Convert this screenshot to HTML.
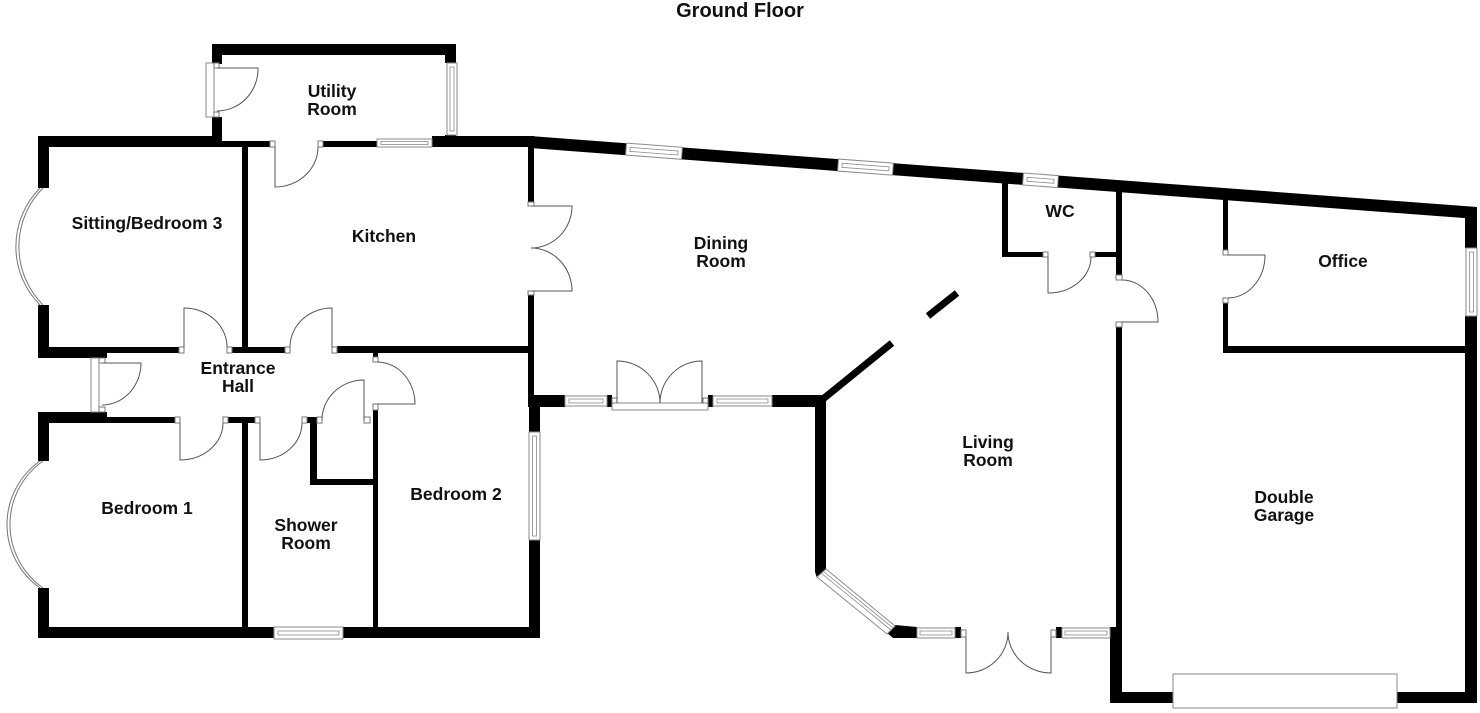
<!DOCTYPE html>
<html>
<head>
<meta charset="utf-8">
<style>
html,body{margin:0;padding:0;background:#fff;}
svg{display:block;}
.win{fill:#fff;stroke:#8a8a8a;stroke-width:1;}
.wl{fill:none;stroke:#8a8a8a;stroke-width:0.8;}
.d{fill:none;stroke:#555;stroke-width:1;}
.j{fill:#fff;stroke:#777;stroke-width:1;}
.bay{fill:none;stroke:#777;stroke-width:1;}
text{font-family:"Liberation Sans",Arial,sans-serif;font-weight:bold;fill:#111;text-anchor:middle;}
.lb{font-size:17.5px;}
</style>
</head>
<body>
<svg width="1480" height="713" viewBox="0 0 1480 713" xmlns="http://www.w3.org/2000/svg">
<rect x="0" y="0" width="1480" height="713" fill="#fff"/>

<text x="740" y="17" style="font-size:20px">Ground Floor</text>

<g fill="#000">
  <!-- utility -->
  <rect x="212" y="44" width="244" height="11"/>
  <rect x="212" y="44" width="10" height="20"/>
  <rect x="212" y="117" width="10" height="30"/>
  <rect x="445" y="44" width="11" height="19"/>
  <rect x="445" y="135" width="11" height="12"/>
  <!-- main top -->
  <rect x="38" y="136" width="184" height="11"/>
  <rect x="222" y="141" width="48" height="6"/>
  <rect x="323" y="141" width="54" height="6"/>
  <rect x="432" y="136" width="102" height="11"/>
  <polygon points="530,136 1477,207 1477,219 530,148"/>
  <!-- sitting -->
  <rect x="38" y="136" width="11" height="52"/>
  <rect x="38" y="305" width="11" height="53"/>
  <rect x="38" y="347" width="69" height="11"/>
  <rect x="107" y="347" width="72" height="6"/>
  <rect x="232" y="347" width="53" height="6"/>
  <rect x="337" y="346" width="197" height="7"/>
  <rect x="242" y="147" width="6" height="206"/>
  <rect x="373" y="352" width="5" height="5"/>
  <!-- kitchen right -->
  <rect x="528" y="147" width="6" height="55"/>
  <rect x="528" y="295" width="6" height="100"/>
  <!-- bedroom 2 right -->
  <rect x="528" y="395" width="37" height="12"/>
  <rect x="529" y="395" width="11" height="37"/>
  <rect x="529" y="540" width="11" height="98"/>
  <!-- bottom -->
  <rect x="38" y="627" width="236" height="11"/>
  <rect x="343" y="627" width="197" height="11"/>
  <!-- bedroom 1 -->
  <rect x="38" y="412" width="11" height="49"/>
  <rect x="38" y="588" width="11" height="50"/>
  <rect x="38" y="412" width="69" height="11"/>
  <rect x="107" y="417" width="68" height="6"/>
  <rect x="228" y="417" width="27" height="6"/>
  <rect x="307" y="417" width="10" height="6"/>
  <rect x="242" y="417" width="6" height="210"/>
  <rect x="310" y="417" width="7" height="68"/>
  <rect x="310" y="479" width="68" height="6"/>
  <rect x="373" y="410" width="5" height="217"/>
  <!-- dining bottom -->
  <rect x="533" y="395" width="32" height="12"/>
  <rect x="607" y="395" width="5" height="12"/>
  <rect x="708" y="395" width="5" height="12"/>
  <rect x="772" y="395" width="54" height="12"/>
  <!-- living -->
  <rect x="815" y="395" width="11" height="177"/>
  <polygon points="815,572 826,566 826,572 817,578"/>
  <polygon points="895,625 917,627 917,638 893,638 886,632"/>
  <rect x="955" y="627" width="6" height="11"/>
  <rect x="1056" y="627" width="6" height="11"/>
  <!-- WC -->
  <rect x="1002" y="180" width="6" height="77"/>
  <rect x="1002" y="252" width="41" height="5"/>
  <rect x="1095" y="252" width="21" height="5"/>
  <!-- garage -->
  <rect x="1116" y="190" width="6" height="85"/>
  <rect x="1116" y="327" width="6" height="300"/>
  <rect x="1110" y="627" width="12" height="76"/>
  <rect x="1110" y="692" width="367" height="11"/>
  <rect x="1465" y="207" width="12" height="41"/>
  <rect x="1465" y="316" width="12" height="387"/>
  <!-- office -->
  <rect x="1223" y="197" width="5" height="53"/>
  <rect x="1223" y="303" width="5" height="50"/>
  <rect x="1223" y="346" width="242" height="7"/>
</g>

<!-- diagonal walls -->
<line x1="823" y1="399" x2="892" y2="343" stroke="#000" stroke-width="7"/>
<line x1="928" y1="316" x2="957" y2="293" stroke="#000" stroke-width="7"/>

<!-- bay windows -->
<path class="bay" d="M40,188 A83,83 0 0 0 40,305"/>
<path class="bay" d="M43,188 A83,83 0 0 0 43,305"/>
<path class="bay" d="M40,461 A77.6,77.6 0 0 0 40,588"/>
<path class="bay" d="M43,461 A77.6,77.6 0 0 0 43,588"/>

<!-- windows -->
<g>
  <rect class="win" x="447" y="63" width="10" height="72"/>
  <rect class="wl" x="450" y="67" width="4" height="64"/>
  <rect class="win" x="377" y="139" width="55" height="8"/>
  <rect class="wl" x="381" y="141.5" width="47" height="3"/>
  <g transform="rotate(4.3 654 151.2)">
    <rect class="win" x="626" y="145.2" width="56" height="12"/>
    <rect class="wl" x="630" y="149.2" width="48" height="4"/>
  </g>
  <g transform="rotate(4.3 865.5 167.1)">
    <rect class="win" x="838" y="161.1" width="55" height="12"/>
    <rect class="wl" x="842" y="165.1" width="47" height="4"/>
  </g>
  <g transform="rotate(4.3 1040.5 180.3)">
    <rect class="win" x="1023" y="174.3" width="35" height="12"/>
    <rect class="wl" x="1027" y="178.3" width="27" height="4"/>
  </g>
  <rect class="win" x="1466" y="248" width="11" height="68"/>
  <rect class="wl" x="1469.5" y="252" width="4" height="60"/>
  <rect class="win" x="529" y="432" width="11" height="108"/>
  <rect class="wl" x="532.5" y="436" width="4" height="100"/>
  <rect class="win" x="274" y="627" width="69" height="12"/>
  <rect class="wl" x="278" y="631" width="61" height="4"/>
  <rect class="win" x="565" y="396" width="42" height="10"/>
  <rect class="wl" x="569" y="399" width="34" height="4"/>
  <rect class="win" x="713" y="396" width="59" height="10"/>
  <rect class="wl" x="717" y="399" width="51" height="4"/>
  <rect class="win" x="612" y="403" width="96" height="7"/>
  <polygon class="win" points="817,577 826,569 895,626 887,634"/>
  <line class="wl" x1="821" y1="573" x2="891" y2="630"/>
  <line class="wl" x1="823" y1="571" x2="893" y2="628"/>
  <rect class="win" x="917" y="628" width="38" height="10"/>
  <rect class="wl" x="920" y="631" width="32" height="4"/>
  <rect class="win" x="1062" y="628" width="48" height="10"/>
  <rect class="wl" x="1065" y="631" width="42" height="4"/>
  <rect class="win" x="91" y="358" width="8" height="54"/>
  <rect class="win" x="206" y="63" width="8" height="54"/>
  <rect class="win" x="1173" y="674" width="224" height="34"/>
</g>

<!-- jambs -->
<g class="j">
  <rect x="214" y="63" width="5" height="5"/>
  <rect x="214" y="112" width="5" height="5"/>
  <rect x="270" y="141" width="5" height="6"/>
  <rect x="318" y="141" width="5" height="6"/>
  <rect x="179" y="347" width="5" height="6"/>
  <rect x="227" y="347" width="5" height="6"/>
  <rect x="285" y="347" width="5" height="6"/>
  <rect x="332" y="347" width="5" height="6"/>
  <rect x="373" y="357" width="5" height="5"/>
  <rect x="373" y="404" width="5" height="6"/>
  <rect x="99" y="358" width="6" height="5"/>
  <rect x="99" y="407" width="6" height="5"/>
  <rect x="175" y="417" width="5" height="6"/>
  <rect x="223" y="417" width="5" height="6"/>
  <rect x="255" y="417" width="5" height="6"/>
  <rect x="302" y="417" width="5" height="6"/>
  <rect x="317" y="417" width="5" height="6"/>
  <rect x="364" y="417" width="6" height="6"/>
  <rect x="528" y="202" width="6" height="4"/>
  <rect x="528" y="291" width="6" height="4"/>
  <rect x="612" y="398" width="5" height="5"/>
  <rect x="703" y="398" width="5" height="5"/>
  <rect x="961" y="630" width="5" height="7"/>
  <rect x="1051" y="630" width="5" height="7"/>
  <rect x="1043" y="252" width="5" height="5"/>
  <rect x="1090" y="252" width="5" height="5"/>
  <rect x="1116" y="275" width="6" height="5"/>
  <rect x="1116" y="322" width="6" height="5"/>
  <rect x="1223" y="250" width="5" height="5"/>
  <rect x="1223" y="298" width="5" height="5"/>
</g>

<!-- doors -->
<g class="d">
  <path d="M217,68 L258,68 A41,42 0 0 1 217,111"/>
  <path d="M275,147 L275,187 A43,40 0 0 0 318,147"/>
  <path d="M184,347 L184,308 A43,39 0 0 1 227,347"/>
  <path d="M332,347 L332,308 A42,39 0 0 0 290,347"/>
  <path d="M180,423 L180,460 A43,37 0 0 0 223,423"/>
  <path d="M260,423 L260,460 A42,37 0 0 0 302,423"/>
  <path d="M364,420 L364,380 A42,40 0 0 0 322,420"/>
  <path d="M377,404 L415,404 A38,42 0 0 0 377,362"/>
  <path d="M102,363 L141,363 A39,42 0 0 1 102,405"/>
  <path d="M531,206 L572,206 A41,42 0 0 1 531,248"/>
  <path d="M531,291 L572,291 A41,43 0 0 0 531,248"/>
  <path d="M617,403 L617,361 A43,42 0 0 1 660,403"/>
  <path d="M702,403 L702,361 A42,42 0 0 0 660,403"/>
  <path d="M1048,257 L1048,293 A43,36 0 0 0 1091,257"/>
  <path d="M1122,322 L1158,322 A36,42 0 0 0 1122,280"/>
  <path d="M1228,255 L1265,255 A37,43 0 0 1 1228,298"/>
  <path d="M966,637 L966,673 A42,41 0 0 0 1008,632"/>
  <path d="M1051,637 L1051,673 A43,41 0 0 1 1008,632"/>
</g>

<!-- labels -->
<g class="lb">
  <text x="332" y="97">Utility</text>
  <text x="332" y="115">Room</text>
  <text x="147" y="229">Sitting/Bedroom 3</text>
  <text x="384" y="242">Kitchen</text>
  <text x="721" y="249">Dining</text>
  <text x="721" y="267">Room</text>
  <text x="1060" y="217">WC</text>
  <text x="1343" y="267">Office</text>
  <text x="238" y="374">Entrance</text>
  <text x="238" y="392">Hall</text>
  <text x="147" y="514">Bedroom 1</text>
  <text x="306" y="531">Shower</text>
  <text x="306" y="549">Room</text>
  <text x="456" y="500">Bedroom 2</text>
  <text x="988" y="448">Living</text>
  <text x="988" y="466">Room</text>
  <text x="1284" y="503">Double</text>
  <text x="1284" y="521">Garage</text>
</g>
</svg>
</body>
</html>
